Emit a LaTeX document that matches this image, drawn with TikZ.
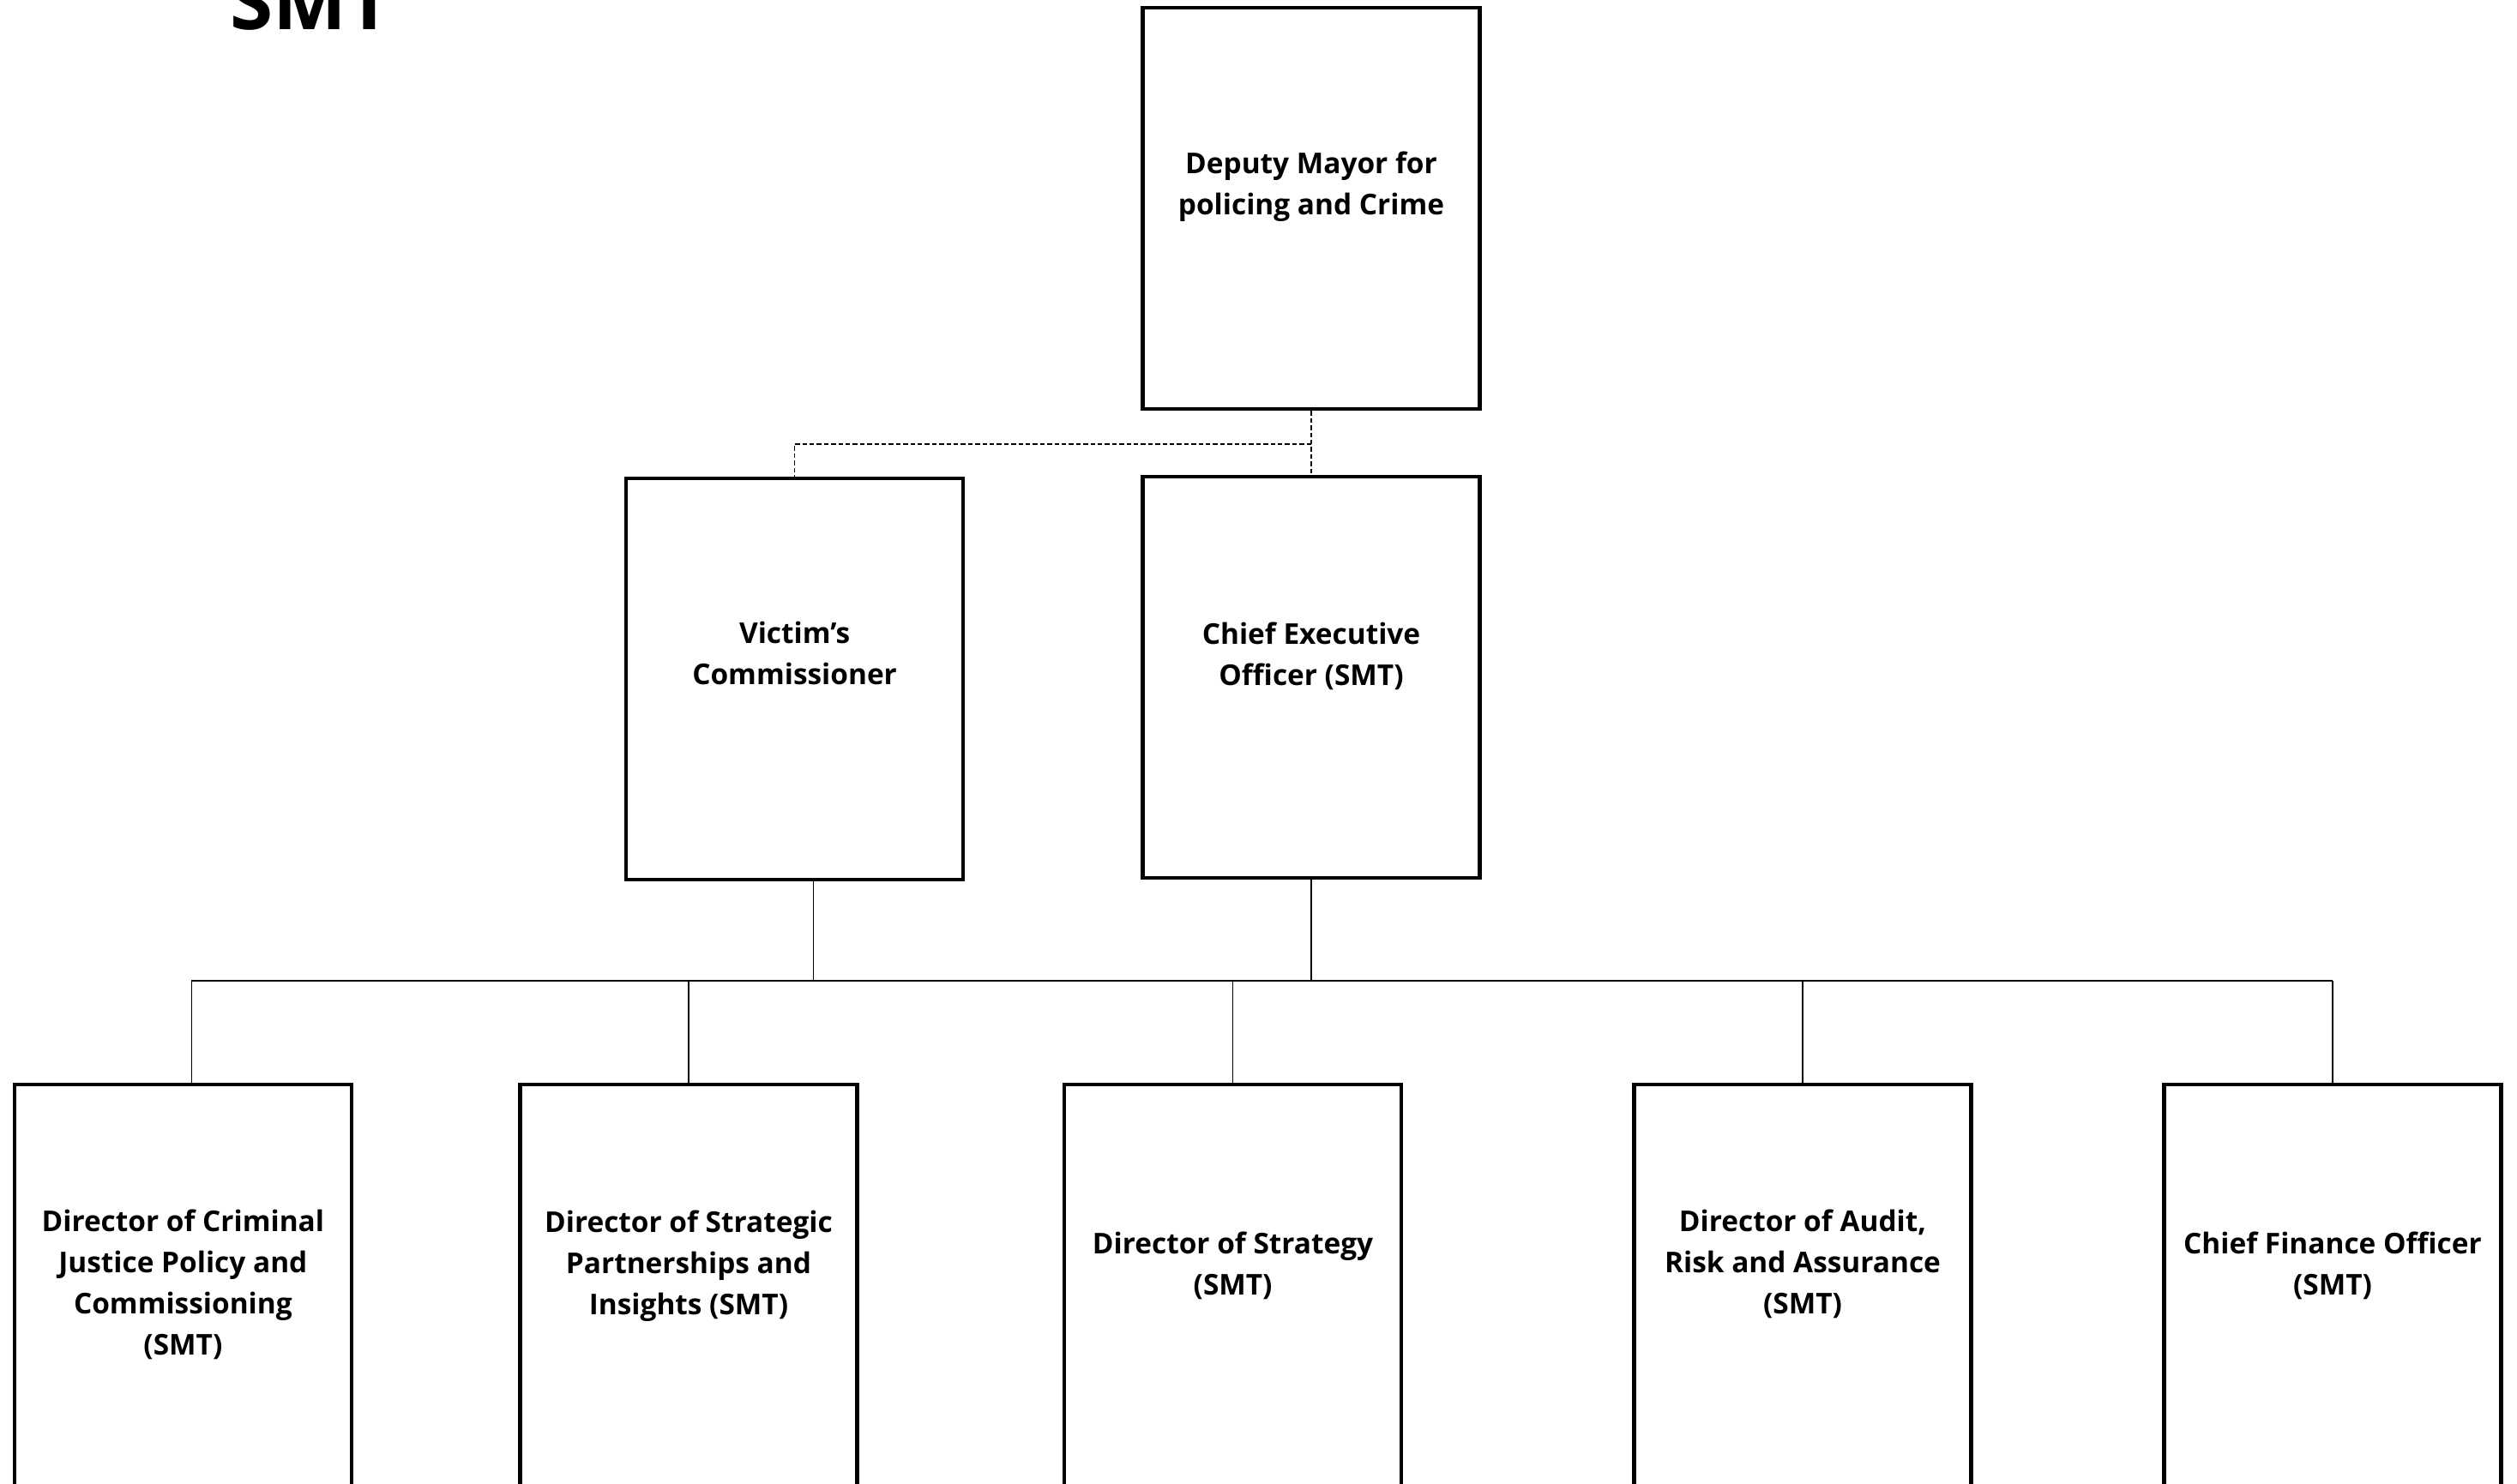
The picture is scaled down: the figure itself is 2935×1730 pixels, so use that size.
\documentclass[tikz,border=0pt]{standalone}
\usepackage{fontspec}
\setmainfont{Open Sans}
\begin{document}
\begin{tikzpicture}[x=0.5pt,y=-0.5pt,
  box/.style={draw, line width=2.3pt, minimum width=196.5pt, minimum height=234pt, inner sep=0pt},
  txt/.style={align=center, inner sep=0pt, font=\bfseries\fontsize{16.7}{24}\selectfont},
  conn/.style={line width=0.8pt},
  dotline/.style={line width=0.65pt, dash pattern=on 2.7pt off 1.5pt}]
\useasboundingbox (0,0) rectangle (2935,1730);
\clip (0,0) rectangle (2935,1730);
% title
\node[anchor=base west, inner sep=0pt, font=\bfseries\fontsize{45.5}{50}\selectfont] (title) at (268,34) {SMT};
% boxes
\node[box] (dm) at (1529,243) {};
\node[box] (vc) at (926.6,792) {};
\node[box] (ceo) at (1529,790) {};
\node[box] (b1) at (213.4,1499) {};
\node[box] (b2) at (803,1499) {};
\node[box] (b3) at (1437.6,1499) {};
\node[box] (b4) at (2102,1499) {};
\node[box] (b5) at (2720,1499) {};
% texts
\node[txt] (tdm) at (1529,217.4) {Deputy Mayor for\\policing and Crime};
\node[txt] (tvc) at (926.6,761.8) {Victim’s\\Commissioner};
\node[txt] (tceo) at (1529,765.7) {Chief Executive\\Officer (SMT)};
\node[txt] (tb1) at (213.4,1498.5) {Director of Criminal\\Justice Policy and\\Commissioning\\(SMT)};
\node[txt] (tb2) at (803,1476.5) {Director of Strategic\\Partnerships and\\Insights (SMT)};
\node[txt] (tb3) at (1437.6,1476) {Director of Strategy\\(SMT)};
\node[txt] (tb4) at (2102,1474.5) {Director of Audit,\\Risk and Assurance\\(SMT)};
\node[txt] (tb5) at (2720,1476) {Chief Finance Officer\\(SMT)};
% dashed links
\coordinate (dj) at (1529,518);
\draw[dotline] (dm.south) -- (ceo.north);
\draw[dotline] (dj) -| (vc.north);
% solid links
\coordinate (bus) at (0,1144);
\coordinate (vcs) at ([xshift=11pt]vc.south);
\coordinate (b1n) at ([xshift=5pt]b1.north);
\draw[conn] (ceo.south) -- (ceo.south |- bus);
\draw[conn] (vcs) -- (vcs |- bus);
\draw[conn] (b1n |- bus) -- (b5.north |- bus);
\draw[conn] (b1n) -- (b1n |- bus);
\draw[conn] (b2.north) -- (b2.north |- bus);
\draw[conn] (b3.north) -- (b3.north |- bus);
\draw[conn] (b4.north) -- (b4.north |- bus);
\draw[conn] (b5.north) -- (b5.north |- bus);
\end{tikzpicture}
\end{document}
